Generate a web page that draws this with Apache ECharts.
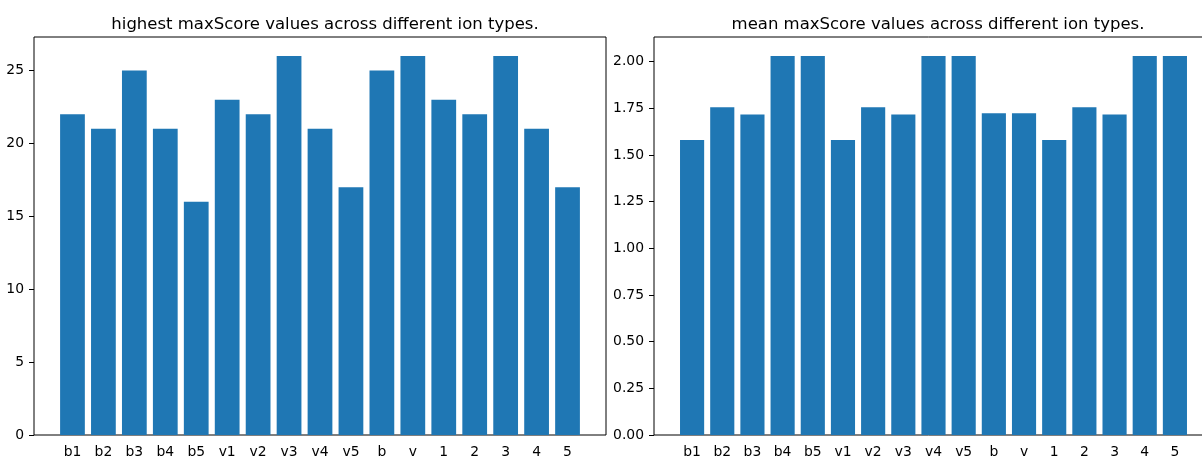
<!DOCTYPE html>
<html>
<head>
<meta charset="utf-8">
<script src="https://cdn.jsdelivr.net/npm/echarts@6/dist/echarts.min.js"></script>
<style>
  html, body { margin: 0; padding: 0; background: #fff; }
  #chart { width: 1202px; height: 456px; }
</style>
</head>
<body>
<div id="chart"></div>
<script>
// ion types on the x axis
const categories = ['b1', 'b2', 'b3', 'b4', 'b5', 'v1', 'v2', 'v3', 'v4', 'v5', 'b', 'v', '1', '2', '3', '4', '5']
// highest maxScore per ion type
const highestScores = [22, 21, 25, 21, 16, 23, 22, 26, 21, 17, 25, 26, 23, 22, 26, 21, 17]
// mean maxScore per ion type
const meanScores = [1.581, 1.756, 1.718, 2.031, 2.031, 1.581, 1.756, 1.718, 2.031, 2.031, 1.724, 1.724, 1.581, 1.756, 1.718, 2.031, 2.031]

const leftTitle = 'highest maxScore values across different ion types.'
const rightTitle = 'mean maxScore values across different ion types.'

const barColor = '#1f77b4'
const font = 'DejaVu Sans'
const tickFont = { fontFamily: font, fontSize: 13.9, color: '#000' }

const chart = echarts.init(document.getElementById('chart'), null, { renderer: 'canvas' })

// frame grids (matplotlib axes box) and inner grids (bar area without the 5% margins)
const gridTop = 37
const gridHeight = 398

chart.setOption({
  animation: false,
  backgroundColor: '#fff',
  title: [
    { text: leftTitle, left: 320, top: 11, textAlign: 'center',
      textStyle: { fontFamily: font, fontSize: 16.5, fontWeight: 'normal', color: '#000' } },
    { text: rightTitle, left: 933, top: 11, textAlign: 'center',
      textStyle: { fontFamily: font, fontSize: 16.5, fontWeight: 'normal', color: '#000' } }
  ],
  grid: [
    { left: 34, top: gridTop, width: 572, height: gridHeight, outerBoundsMode: 'none',
      show: true, borderColor: '#000', borderWidth: 1, backgroundColor: 'transparent' },
    { left: 57, top: gridTop, width: 526, height: gridHeight, outerBoundsMode: 'none' },
    { left: 654, top: gridTop, width: 559, height: gridHeight, outerBoundsMode: 'none',
      show: true, borderColor: '#000', borderWidth: 1, backgroundColor: 'transparent' },
    { left: 677, top: gridTop, width: 513, height: gridHeight, outerBoundsMode: 'none' }
  ],
  xAxis: [
    { gridIndex: 0, type: 'value', show: false },
    {
      gridIndex: 1, type: 'category', data: categories,
      axisLine: { show: false },
      axisTick: { alignWithLabel: true, length: 5, lineStyle: { color: '#000' } },
      axisLabel: Object.assign({ margin: 10, interval: 0 }, tickFont)
    },
    { gridIndex: 2, type: 'value', show: false },
    {
      gridIndex: 3, type: 'category', data: categories,
      axisLine: { show: false },
      axisTick: { alignWithLabel: true, length: 5, lineStyle: { color: '#000' } },
      axisLabel: Object.assign({ margin: 10, interval: 0 }, tickFont)
    }
  ],
  yAxis: [
    {
      gridIndex: 0, type: 'value', min: 0, max: 27.3, interval: 5,
      splitLine: { show: false },
      axisLine: { show: false },
      axisTick: { show: true, length: 5, lineStyle: { color: '#000' } },
      axisLabel: Object.assign({ margin: 10, showMaxLabel: false }, tickFont)
    },
    { gridIndex: 1, type: 'value', min: 0, max: 27.3, show: false },
    {
      gridIndex: 2, type: 'value', min: 0, max: 2.1326, interval: 0.25,
      splitLine: { show: false },
      axisLine: { show: false },
      axisTick: { show: true, length: 5, lineStyle: { color: '#000' } },
      axisLabel: Object.assign({ margin: 10, showMaxLabel: false, formatter: v => v.toFixed(2) }, tickFont)
    },
    { gridIndex: 3, type: 'value', min: 0, max: 2.1326, show: false }
  ],
  series: [
    {
      type: 'bar', xAxisIndex: 1, yAxisIndex: 1, data: highestScores,
      barCategoryGap: '20%',
      itemStyle: { color: barColor }
    },
    {
      type: 'bar', xAxisIndex: 3, yAxisIndex: 3, data: meanScores,
      barCategoryGap: '20%',
      itemStyle: { color: barColor }
    }
  ]
})
</script>
</body>
</html>
